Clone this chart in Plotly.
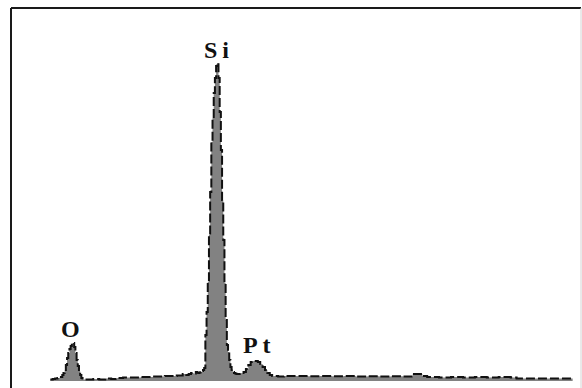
import plotly.graph_objects as go

# EDS spectrum: channel energy (keV) and counts
energy_kev = [
    0.34, 0.36, 0.38, 0.40, 0.42, 0.44, 0.45, 0.46, 0.47, 0.48, 0.49, 0.50,
    0.51, 0.52, 0.53, 0.54, 0.55, 0.56, 0.57, 0.58, 0.59, 0.60, 0.61, 0.62,
    0.65, 0.70, 0.75, 0.80, 0.85, 0.90, 0.95, 1.00, 1.05, 1.10, 1.15, 1.20,
    1.25, 1.30, 1.35, 1.40, 1.45, 1.48, 1.50, 1.52, 1.54, 1.56, 1.57, 1.58,
    1.59, 1.60, 1.61, 1.62, 1.63, 1.64, 1.65, 1.66, 1.67, 1.68, 1.69, 1.70,
    1.71, 1.72, 1.73, 1.74, 1.75, 1.76, 1.77, 1.78, 1.79, 1.80, 1.81, 1.82,
    1.83, 1.84, 1.85, 1.86, 1.87, 1.88, 1.89, 1.90, 1.92, 1.94, 1.96, 1.98,
    2.00, 2.02, 2.04, 2.06, 2.08, 2.10, 2.12, 2.14, 2.16, 2.18, 2.20, 2.25,
    2.30, 2.40, 2.50, 2.60, 2.70, 2.80, 2.90, 3.00, 3.10, 3.20, 3.30, 3.38,
    3.42, 3.46, 3.50, 3.60, 3.70, 3.80, 3.90, 4.00, 4.10, 4.20, 4.25, 4.35,
    4.45, 4.55, 4.65, 4.72,
]
counts = [
    8, 10, 12, 15, 20, 30, 40, 55, 80, 115, 140, 160,
    175, 188, 190, 170, 140, 105, 75, 50, 30, 15, 8, 8,
    8, 10, 8, 12, 10, 15, 18, 18, 18, 20, 20, 22,
    22, 25, 25, 28, 35, 30, 35, 40, 38, 45, 42, 40,
    42, 45, 50, 55, 65, 230, 345, 495, 730, 945, 1195, 1315,
    1440, 1515, 1575, 1590, 1515, 1345, 1155, 905, 705, 490, 305, 180,
    145, 105, 70, 55, 45, 40, 38, 35, 35, 40, 45, 60,
    80, 95, 100, 100, 95, 85, 70, 55, 40, 30, 25, 22,
    25, 25, 24, 25, 24, 25, 22, 24, 22, 24, 22, 35,
    35, 25, 20, 18, 20, 18, 20, 18, 20, 18, 12, 12,
    12, 12, 12, 12,
]

# Element labels: text, energy (keV), label height (counts)
element_names = ["O", "S\u2009i", "P\u2009t"]
element_x = [0.505, 1.731, 2.066]
element_y = [262, 1655, 182]

fig = go.Figure()
fig.add_trace(go.Scatter(
    x=energy_kev, y=counts,
    mode="lines", line_shape="hv",
    line=dict(color="#111111", width=2, dash="9px,3px"),
    fill="tozeroy", fillcolor="#828282",
    hoverinfo="skip", showlegend=False,
))

for name, ex, ey in zip(element_names, element_x, element_y):
    fig.add_annotation(
        x=ex, y=ey, text=f"<b>{name}</b>", showarrow=False,
        xanchor="center", yanchor="middle",
        font=dict(family="Liberation Serif", size=24, color="#111111"),
    )

# Frame: dark left and top edges, faint right edge
fig.add_shape(type="line", xref="paper", yref="paper", x0=0, x1=0, y0=0, y1=1,
              line=dict(color="#1a1a1a", width=2))
fig.add_shape(type="line", xref="paper", yref="paper", x0=0, x1=1, y0=1, y1=1,
              line=dict(color="#1a1a1a", width=2))
fig.add_shape(type="line", xref="paper", yref="paper", x0=1, x1=1, y0=0, y1=1,
              line=dict(color="#d4d4d4", width=1))

fig.update_xaxes(range=[0.01, 4.79], visible=False, showgrid=False, zeroline=False)
fig.update_yaxes(range=[-35, 1865], visible=False, showgrid=False, zeroline=False)
fig.update_layout(
    width=582, height=388,
    margin=dict(l=11, r=1, t=8, b=0),
    paper_bgcolor="white", plot_bgcolor="white",
)

fig.write_html("out.html")
